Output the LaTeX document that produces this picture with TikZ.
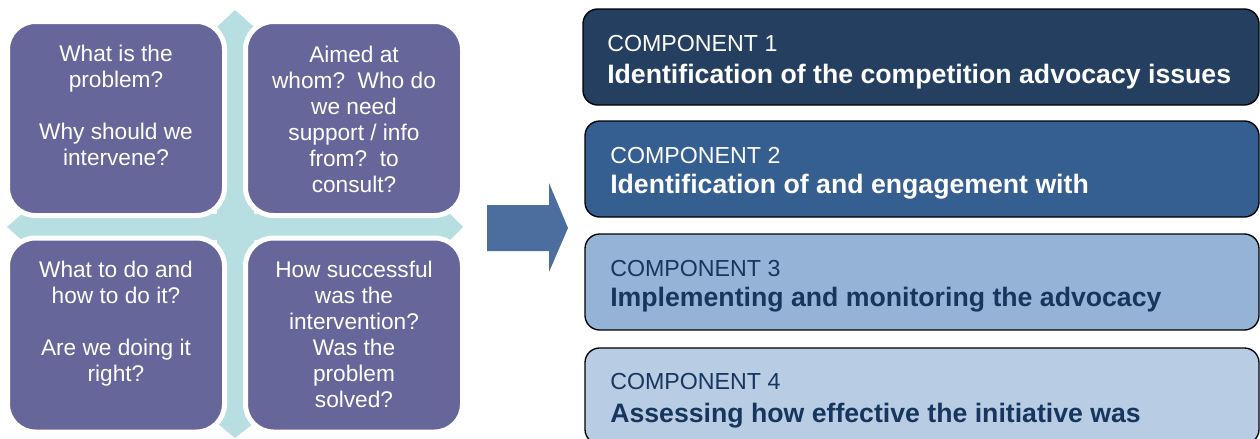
\documentclass[tikz,border=0pt]{standalone}
\usepackage{fontspec}
\setmainfont{Liberation Sans}
\definecolor{teal}{HTML}{B7DEE1}
\definecolor{quad}{HTML}{67669A}
\definecolor{arrowblue}{HTML}{4B6E9E}
\definecolor{cA}{HTML}{243F60}
\definecolor{cB}{HTML}{365F91}
\definecolor{cC}{HTML}{95B3D7}
\definecolor{cD}{HTML}{B8CCE4}
\definecolor{navytext}{HTML}{17365D}
\tikzset{
  qbox/.style={draw=white, line width=3.75pt, fill=quad, rounded corners=21pt,
    minimum width=162.75pt, minimum height=145.5pt, inner sep=0pt},
  qtext/.style={text=white, align=center, font=\fontsize{17}{19.5}\selectfont, inner sep=0pt, anchor=base},
  cbox/.style={draw=black, line width=1pt, rounded corners=11pt, inner sep=0pt,
    minimum height=72pt, minimum width=505.5pt},
  chead/.style={anchor=base west, inner sep=0pt, font=\fontsize{17.4}{20}\selectfont},
  cbody/.style={anchor=base west, inner sep=0pt, font=\fontsize{20}{24}\selectfont\bfseries},
}
\begin{document}
\begin{tikzpicture}[x=0.75pt,y=-0.75pt]
\useasboundingbox (0,0) rectangle (1260,439);
% cross
\fill[teal] (235,10) -- (254,27) -- (254,423) -- (235,438) -- (217,423) -- (217,27) -- cycle;
\fill[teal] (7,227) -- (22,214) -- (450,214) -- (463,227) -- (450,240) -- (22,240) -- cycle;
% quadrant boxes
\node[qbox] (q1) at (116,118.5) {};
\node[qbox] (q2) at (354,118.5) {};
\node[qbox] (q3) at (116,335) {};
\node[qbox] (q4) at (354,335) {};
\node[qtext] (t1) at (116,165) {What is the\\problem?\\[19.5pt]Why should we\\intervene?};
\node[qtext] (t2) at (354,192) {Aimed at\\whom?~~Who do\\we need\\support / info\\from?~~to\\consult?};
\node[qtext] (t3) at (116,381) {What to do and\\how to do it?\\[19.5pt]Are we doing it\\right?};
\node[qtext] (t4) at (354,407) {How successful\\was the\\intervention?\\Was the\\problem\\solved?};
% big arrow
\fill[arrowblue] (487,205) -- (549,205) -- (549,183) -- (568,228) -- (549,272) -- (549,251) -- (487,251) -- cycle;
% components
\node[cbox, fill=cA, minimum width=507pt] (b1) at (921,57) {};
\node[cbox, fill=cB] (b2) at (922,169) {};
\node[cbox, fill=cC] (b3) at (922,282) {};
\node[cbox, fill=cD] (b4) at (922,396) {};
\node[chead, text=white] (h1) at (607,51) {COMPONENT 1};
\node[cbody, text=white] (s1) at (607,83) {Identification of the competition advocacy issues};
\node[chead, text=white] (h2) at (610,163) {COMPONENT 2};
\node[cbody, text=white] (s2) at (610,193) {Identification of and engagement with};
\node[chead, text=navytext] (h3) at (610,276) {COMPONENT 3};
\node[cbody, text=navytext] (s3) at (610,306) {Implementing and monitoring the advocacy};
\node[chead, text=navytext] (h4) at (610,389) {COMPONENT 4};
\node[cbody, text=navytext] (s4) at (610,422) {Assessing how effective the initiative was};
\end{tikzpicture}
\end{document}
